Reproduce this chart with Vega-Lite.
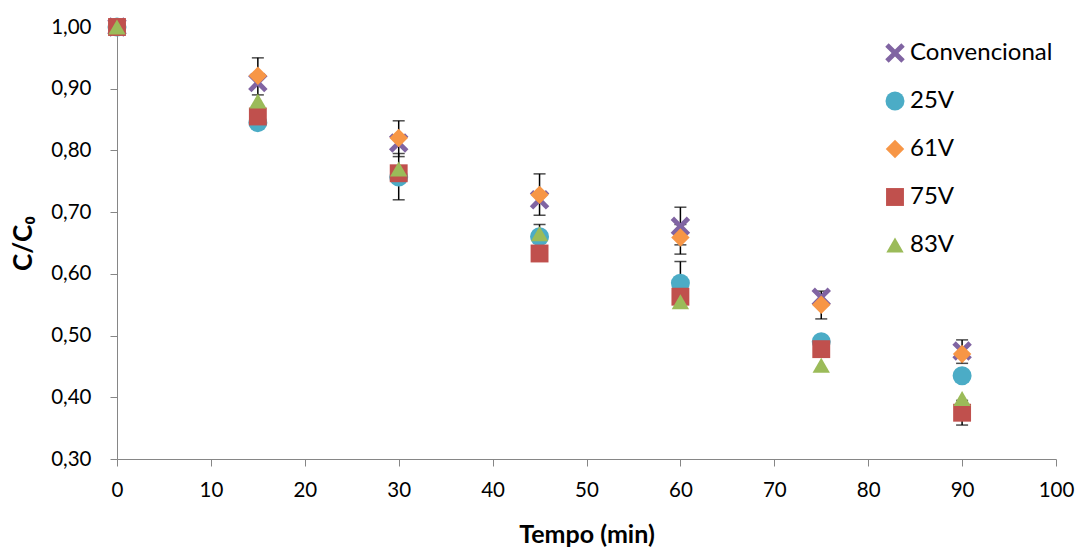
{
  "$schema": "https://vega.github.io/schema/vega-lite/v6.json",
  "width": 939,
  "height": 432,
  "autosize": {"type": "none"},
  "padding": {"left": 117, "top": 27, "right": 22, "bottom": 88},
  "background": "white",
  "config": {
    "view": {"stroke": null},
    "font": "Lato",
    "axis": {"labelFont": "Lato", "titleFont": "Lato", "domainColor": "#868686", "tickColor": "#868686", "labelColor": "#000000", "titleColor": "#000000", "grid": false, "labelFlush": false},
    "legend": {"labelFont": "Lato"}
  },
  "datasets": {
    "pontos": [
      {"tempo": 0, "serie": "Convencional", "valor": 1.0},
      {"tempo": 15, "serie": "Convencional", "valor": 0.91},
      {"tempo": 30, "serie": "Convencional", "valor": 0.812},
      {"tempo": 45, "serie": "Convencional", "valor": 0.72},
      {"tempo": 60, "serie": "Convencional", "valor": 0.677},
      {"tempo": 75, "serie": "Convencional", "valor": 0.562},
      {"tempo": 90, "serie": "Convencional", "valor": 0.475},
      {"tempo": 0, "serie": "25V", "valor": 1.0},
      {"tempo": 15, "serie": "25V", "valor": 0.845},
      {"tempo": 30, "serie": "25V", "valor": 0.757},
      {"tempo": 45, "serie": "25V", "valor": 0.66},
      {"tempo": 60, "serie": "25V", "valor": 0.585},
      {"tempo": 75, "serie": "25V", "valor": 0.49},
      {"tempo": 90, "serie": "25V", "valor": 0.435},
      {"tempo": 0, "serie": "61V", "valor": 1.0},
      {"tempo": 15, "serie": "61V", "valor": 0.921},
      {"tempo": 30, "serie": "61V", "valor": 0.82},
      {"tempo": 45, "serie": "61V", "valor": 0.728},
      {"tempo": 60, "serie": "61V", "valor": 0.659},
      {"tempo": 75, "serie": "61V", "valor": 0.55},
      {"tempo": 90, "serie": "61V", "valor": 0.47},
      {"tempo": 0, "serie": "75V", "valor": 1.0},
      {"tempo": 15, "serie": "75V", "valor": 0.855},
      {"tempo": 30, "serie": "75V", "valor": 0.763},
      {"tempo": 45, "serie": "75V", "valor": 0.633},
      {"tempo": 60, "serie": "75V", "valor": 0.563},
      {"tempo": 75, "serie": "75V", "valor": 0.478},
      {"tempo": 90, "serie": "75V", "valor": 0.375},
      {"tempo": 0, "serie": "83V", "valor": 1.0},
      {"tempo": 15, "serie": "83V", "valor": 0.88},
      {"tempo": 30, "serie": "83V", "valor": 0.77},
      {"tempo": 45, "serie": "83V", "valor": 0.665},
      {"tempo": 60, "serie": "83V", "valor": 0.555},
      {"tempo": 75, "serie": "83V", "valor": 0.452},
      {"tempo": 90, "serie": "83V", "valor": 0.398}
    ],
    "erros": [
      {"tempo": 15, "serie": "61V", "min": 0.89, "max": 0.95},
      {"tempo": 30, "serie": "61V", "min": 0.79, "max": 0.848},
      {"tempo": 30, "serie": "25V", "min": 0.72, "max": 0.795},
      {"tempo": 45, "serie": "61V", "min": 0.695, "max": 0.762},
      {"tempo": 45, "serie": "83V", "min": 0.65, "max": 0.68},
      {"tempo": 60, "serie": "Convencional", "min": 0.647, "max": 0.708},
      {"tempo": 60, "serie": "61V", "min": 0.632, "max": 0.68},
      {"tempo": 60, "serie": "25V", "min": 0.55, "max": 0.62},
      {"tempo": 75, "serie": "61V", "min": 0.527, "max": 0.572},
      {"tempo": 90, "serie": "Convencional", "min": 0.455, "max": 0.493},
      {"tempo": 90, "serie": "75V", "min": 0.355, "max": 0.395}
    ]
  },
  "layer": [
    {
      "data": {"name": "erros"},
      "mark": {"type": "rule", "color": "#000000", "strokeWidth": 1.5},
      "encoding": {
        "x": {"field": "tempo", "type": "quantitative", "scale": {"domain": [0, 100]}},
        "y": {"field": "min", "type": "quantitative", "scale": {"domain": [0.3, 1.0]}},
        "y2": {"field": "max"}
      }
    },
    {
      "data": {"name": "erros"},
      "mark": {"type": "tick", "orient": "horizontal", "color": "#000000", "thickness": 1.5, "size": 12},
      "encoding": {
        "x": {"field": "tempo", "type": "quantitative"},
        "y": {"field": "min", "type": "quantitative"}
      }
    },
    {
      "data": {"name": "erros"},
      "mark": {"type": "tick", "orient": "horizontal", "color": "#000000", "thickness": 1.5, "size": 12},
      "encoding": {
        "x": {"field": "tempo", "type": "quantitative"},
        "y": {"field": "max", "type": "quantitative"}
      }
    },
    {
      "data": {"name": "pontos"},
      "mark": {"type": "point", "filled": true, "opacity": 1, "strokeWidth": 0},
      "encoding": {
        "x": {
          "field": "tempo", "type": "quantitative",
          "scale": {"domain": [0, 100], "nice": false},
          "axis": {"values": [0, 10, 20, 30, 40, 50, 60, 70, 80, 90, 100], "title": "Tempo (min)", "titleFontSize": 25, "titleFontWeight": "bold", "labelFontSize": 20.5, "tickSize": 7, "labelPadding": 14, "titlePadding": 22}
        },
        "y": {
          "field": "valor", "type": "quantitative",
          "scale": {"domain": [0.3, 1.0], "nice": false, "zero": false},
          "axis": {"values": [0.3, 0.4, 0.5, 0.6, 0.7, 0.8, 0.9, 1.0], "labelExpr": "replace(format(datum.value, '.2f'), '.', ',')", "title": "C/C₀", "titleFontSize": 26, "titleFontWeight": "bold", "labelFontSize": 20.5, "tickSize": 7, "labelPadding": 19, "titlePadding": 14}
        },
        "color": {
          "field": "serie", "type": "nominal",
          "scale": {"domain": ["Convencional", "25V", "61V", "75V", "83V"], "range": ["#8064A2", "#4BACC6", "#F79646", "#C0504D", "#9BBB59"]},
          "legend": {"title": null, "orient": "none", "legendX": 766, "legendY": 14, "labelFontSize": 24, "rowPadding": 24, "labelOffset": 3, "symbolOpacity": 1, "symbolStrokeWidth": 0}
        },
        "shape": {
          "field": "serie", "type": "nominal",
          "scale": {"domain": ["Convencional", "25V", "61V", "75V", "83V"], "range": ["M-1,-0.65L-0.65,-1L0,-0.35L0.65,-1L1,-0.65L0.35,0L1,0.65L0.65,1L0,0.35L-0.65,1L-1,0.65L-0.35,0Z", "circle", "diamond", "square", "triangle-up"]}
        },
        "size": {
          "field": "serie", "type": "nominal",
          "scale": {"domain": ["Convencional", "25V", "61V", "75V", "83V"], "range": [380, 300, 340, 270, 340]}
        }
      }
    }
  ]
}
